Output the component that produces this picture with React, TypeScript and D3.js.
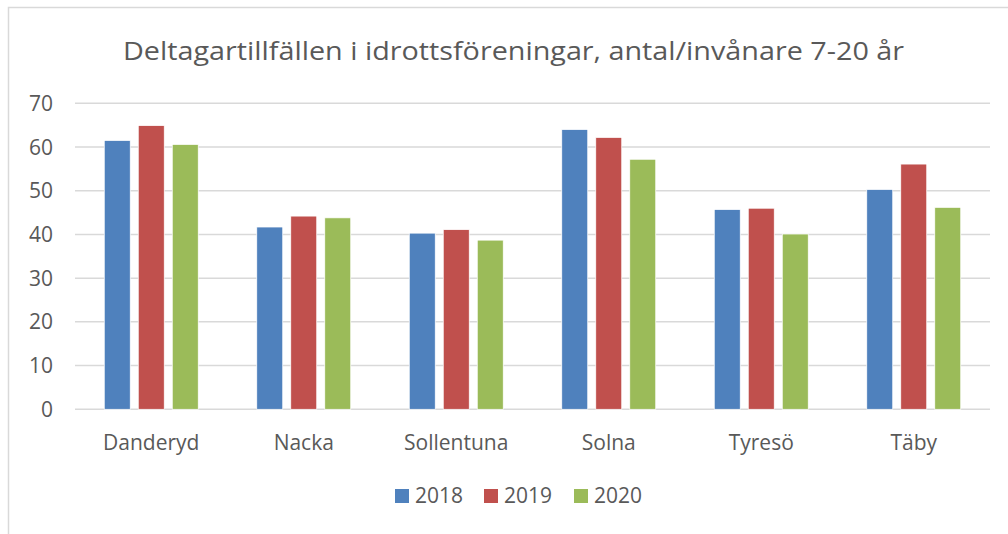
import React from "react";
import * as d3 from "d3";

const title = "Deltagartillfällen i idrottsföreningar, antal/invånare 7-20 år";
const categories = ["Danderyd", "Nacka", "Sollentuna", "Solna", "Tyresö", "Täby"];
const seriesNames = ["2018", "2019", "2020"];
const values2018 = [61.5, 41.7, 40.3, 64.0, 45.7, 50.3];
const values2019 = [64.9, 44.2, 41.1, 62.2, 46.0, 56.1];
const values2020 = [60.6, 43.8, 38.7, 57.2, 40.1, 46.2];
const yTicks = [0, 10, 20, 30, 40, 50, 60, 70];
const colors = ["#4F81BD", "#C0504D", "#9BBB59"];

const seriesValues = [values2018, values2019, values2020];

const W = 1008;
const H = 534;
const FONT = "'Open Sans', 'Noto Sans', sans-serif";
const TEXT = "#595959";
const LABEL_SIZE = 21;

export default function App() {
  const plotLeft = 75;
  const plotRight = 990;
  const y = d3.scaleLinear().domain([0, 70]).range([409.3, 103.3]);
  const x0 = d3.scaleBand<string>().domain(categories).range([plotLeft, plotRight]).padding(0);
  const groupW = 94;
  const x1 = d3
    .scaleBand<string>()
    .domain(seriesNames)
    .range([0, groupW])
    .paddingInner(8 / 34)
    .paddingOuter(0);
  const offset = (x0.bandwidth() - groupW) / 2;

  const legendItems = [
    { x: 395, tx: 415 },
    { x: 484, tx: 504 },
    { x: 574, tx: 594 },
  ];

  return (
    <svg
      width={W}
      height={H}
      style={{ position: "absolute", left: 0, top: 0, display: "block", background: "#fff" }}
    >
      <rect x={8.5} y={7.5} width={1010} height={540} fill="#fff" stroke="#d9d9d9" strokeWidth={1.5} />
      <text
        x={513.5}
        y={60}
        textAnchor="middle"
        fill={TEXT}
        fontFamily={FONT}
        fontSize={25}
        textLength={781}
        lengthAdjust="spacingAndGlyphs"
      >
        {title}
      </text>
      {yTicks.map((t) => (
        <g key={t}>
          <line x1={plotLeft} x2={plotRight} y1={y(t)} y2={y(t)} stroke="#d9d9d9" strokeWidth={1.5} />
          <text
            x={53}
            y={y(t)}
            dy="0.36em"
            textAnchor="end"
            fill={TEXT}
            fontFamily={FONT}
            fontSize={LABEL_SIZE}
          >
            {t}
          </text>
        </g>
      ))}
      {categories.map((c, i) => (
        <g key={c}>
          {seriesNames.map((s, j) => {
            const v = seriesValues[j][i];
            const bx = (x0(c) as number) + offset + (x1(s) as number);
            return (
              <rect
                key={s}
                x={bx}
                y={y(v)}
                width={x1.bandwidth()}
                height={y(0) - y(v)}
                fill={colors[j]}
                stroke="#fff"
                strokeWidth={0.75}
              />
            );
          })}
          <text
            x={(x0(c) as number) + x0.bandwidth() / 2}
            y={450}
            textAnchor="middle"
            fill={TEXT}
            fontFamily={FONT}
            fontSize={LABEL_SIZE}
          >
            {c}
          </text>
        </g>
      ))}
      {seriesNames.map((s, j) => (
        <g key={s}>
          <rect x={legendItems[j].x} y={489} width={14} height={14} fill={colors[j]} />
          <text x={legendItems[j].tx} y={503} fill={TEXT} fontFamily={FONT} fontSize={LABEL_SIZE}>
            {s}
          </text>
        </g>
      ))}
    </svg>
  );
}
